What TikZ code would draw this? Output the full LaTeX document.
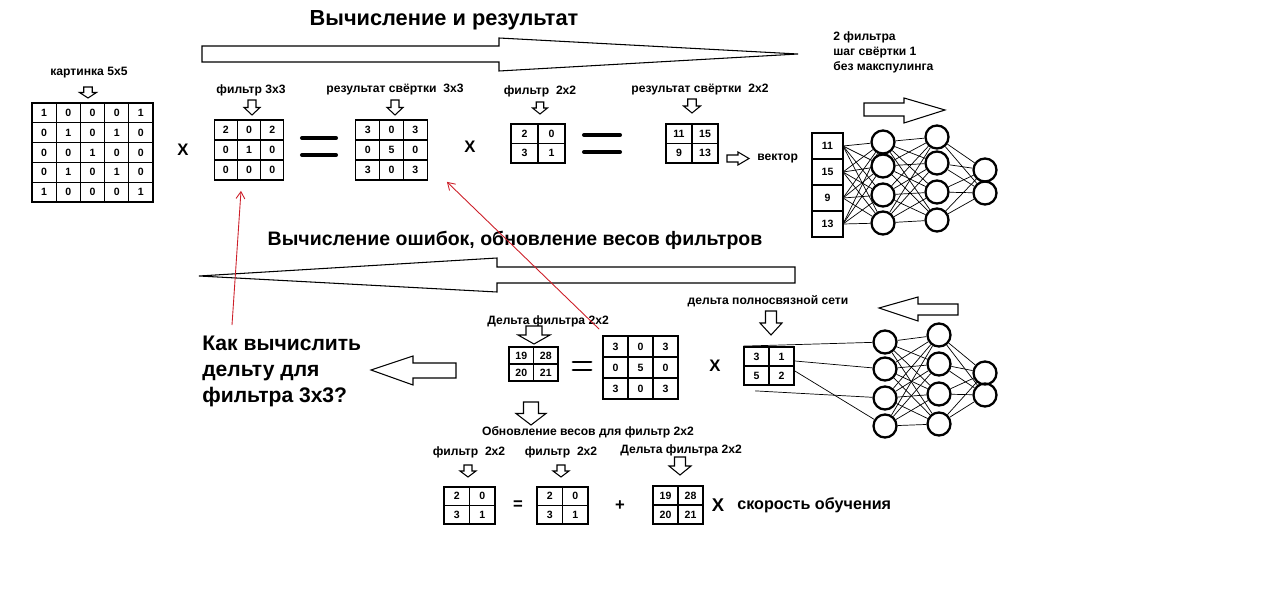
\documentclass[tikz,border=0pt]{standalone}
\usepackage{fontspec}
\setmainfont{Liberation Sans}
\usetikzlibrary{matrix,calc,arrows.meta}

\definecolor{penred}{RGB}{205,30,40}

\newcommand{\lbl}{\fontsize{6.9}{8}\selectfont\bfseries}
\newcommand{\notefont}{\fontsize{6.9}{8.5}\selectfont\bfseries}
\newcommand{\cellfont}{\fontsize{6}{7}\selectfont\bfseries}
\newcommand{\ttlfwd}{\fontsize{12.4}{14}\selectfont\bfseries}
\newcommand{\ttlbwd}{\fontsize{11.1}{14}\selectfont\bfseries}
\newcommand{\askfont}{\fontsize{12}{14.8}\selectfont\bfseries}
\newcommand{\opfont}{\fontsize{9.5}{11}\selectfont\bfseries}
\newcommand{\ratefont}{\fontsize{9.2}{10}\selectfont\bfseries}

% hollow down arrow: x, y of tail, width, length
\newcommand{\dnarrow}[4]{%
  \draw[hollow] ({#1-#3/4},#2) -- ({#1+#3/4},#2) -- ({#1+#3/4},{#2+#4/2})
    -- ({#1+#3/2},{#2+#4/2}) -- (#1,{#2+#4}) -- ({#1-#3/2},{#2+#4/2})
    -- ({#1-#3/4},{#2+#4/2}) -- cycle;}

\begin{document}
\begin{tikzpicture}[x=0.02cm, y=-0.02cm,
  numgrid/.style 2 args={matrix of nodes, inner sep=0pt, column sep=-0.6pt, row sep=-0.6pt,
    nodes={draw, line width=0.6pt, outer sep=0pt, inner sep=0pt, anchor=center, font=\cellfont,
      minimum width=#1*0.02cm, minimum height=#2*0.02cm}},
  txt/.style={inner sep=0pt, font=\lbl},
  op/.style={inner sep=0pt, font=\opfont},
  neuron/.style={circle, draw, line width=1.3pt, minimum size=0.46cm, inner sep=0pt},
  wire/.style={line width=0.4pt},
  hollow/.style={draw, line width=0.6pt, fill=white},
  eqbar/.style={line width=2.3pt, line cap=round},
  redarr/.style={penred, line width=0.5pt, -{Straight Barb[length=4pt,width=5pt]}}
]
\fill[white] (0,0) rectangle (1280,594);
\useasboundingbox (0,0) rectangle (1280,594);

% Forward pass
\node[font=\ttlfwd, inner sep=0pt] (ttlfwd) at (444,20) {Вычисление и результат};
\draw[hollow] (202,46) -- (499,46) -- (499,38) -- (798,54) -- (499,71) -- (499,62) -- (202,62) -- cycle;

\node[txt] (lblimg) at (89,73) {картинка 5х5};
\dnarrow{88}{87}{17}{11}
\matrix[numgrid={24.2}{19.8}] (img) at (92.5,152.5) {
  1 & 0 & 0 & 0 & 1 \\ 0 & 1 & 0 & 1 & 0 \\ 0 & 0 & 1 & 0 & 0 \\ 0 & 1 & 0 & 1 & 0 \\ 1 & 0 & 0 & 0 & 1 \\};
\node[op] (mul1) at (183,150) {X};

\node[txt] (lblf3) at (251,90) {фильтр 3х3};
\dnarrow{252}{100}{16}{15}
\matrix[numgrid={23.3}{20}] (flt3) at (249,150) {2 & 0 & 2 \\ 0 & 1 & 0 \\ 0 & 0 & 0 \\};
\draw[eqbar] (302,138) -- (336,138);
\draw[eqbar] (302,155) -- (336,155);

\node[txt] (lblc3) at (395,90) {результат свёртки\ \ 3х3};
\dnarrow{395}{100}{16}{15}
\matrix[numgrid={23.7}{20}] (cnv3) at (391.5,150) {3 & 0 & 3 \\ 0 & 5 & 0 \\ 3 & 0 & 3 \\};
\node[op] (mul2) at (470,147) {X};

\node[txt] (lblf2) at (540,91) {фильтр\ \ 2х2};
\dnarrow{540}{102}{15}{12}
\matrix[numgrid={27}{19.5}] (flt2) at (538,143.5) {2 & 0 \\ 3 & 1 \\};
\draw[eqbar] (584,135) -- (620,135);
\draw[eqbar] (584,152) -- (620,152);

\node[txt] (lblc2) at (700,90) {результат свёртки\ \ 2х2};
\dnarrow{692}{99}{17}{14}
\matrix[numgrid={26}{19.5}] (cnv2) at (692,143.5) {11 & 15 \\ 9 & 13 \\};
\draw[hollow] (727,155) -- (738,155) -- (738,152) -- (749,158.5) -- (738,165) -- (738,162) -- (727,162) -- cycle;
\node[txt, anchor=west] (lblvec) at (757,158) {вектор};

\node[font=\notefont, anchor=north west, align=left, inner sep=0pt] (note) at (833,31)
  {2 фильтра\\шаг свёртки 1\\без макспулинга};
\draw[hollow] (864,103) -- (904,103) -- (904,98) -- (945,110) -- (904,123) -- (904,116) -- (864,116) -- cycle;

% Fully connected net (forward)
\matrix[numgrid={31}{26}] (vec) at (827.5,185) {11 \\ 15 \\ 9 \\ 13 \\};
\foreach \i/\y in {1/142,2/166,3/195,4/223} \node[neuron] (ta\i) at (883,\y) {};
\foreach \i/\y in {1/137,2/163,3/192,4/220} \node[neuron] (tb\i) at (937,\y) {};
\foreach \i/\y in {1/170,2/193} \node[neuron] (tc\i) at (985,\y) {};
\foreach \i in {1,...,4} \foreach \j in {1,...,4} \draw[wire] (vec-\i-1.east) -- (ta\j);
\foreach \i in {1,...,4} \foreach \j in {1,...,4} \draw[wire] (ta\i) -- (tb\j);
\foreach \i in {1,...,4} \foreach \j in {1,2} \draw[wire] (tb\i) -- (tc\j);

% Backward pass
\node[font=\ttlbwd, inner sep=0pt] (ttlbwd) at (515,240) {Вычисление ошибок, обновление весов фильтров};
\draw[hollow] (795,267) -- (497,267) -- (497,258) -- (199,276) -- (497,292) -- (497,283) -- (795,283) -- cycle;

\node[font=\askfont, anchor=west, align=left, inner sep=0pt] (ask) at (202,371)
  {Как вычислить\\дельту для\\фильтра 3х3?};
\draw[hollow] (456,363) -- (413,363) -- (413,356) -- (371,370) -- (413,385) -- (413,378) -- (456,378) -- cycle;

\node[txt] (lbldf) at (548,321) {Дельта фильтра 2х2};
\dnarrow{534}{326}{32}{18}
\matrix[numgrid={24.5}{17}] (dflt) at (533.5,364) {19 & 28 \\ 20 & 21 \\};
\draw[eqbar, line width=1.7pt] (573,362) -- (591,362);
\draw[eqbar, line width=1.7pt] (573,370) -- (591,370);
\matrix[numgrid={25}{21}] (cnv3b) at (640.5,367.5) {3 & 0 & 3 \\ 0 & 5 & 0 \\ 3 & 0 & 3 \\};
\node[op] (mul3) at (715,366) {X};

\node[txt] (lbldfc) at (768,301) {дельта полносвязной сети};
\dnarrow{771}{311}{22}{24}
\matrix[numgrid={25}{19}] (dfc) at (769,366) {3 & 1 \\ 5 & 2 \\};
\draw[hollow] (958,304) -- (918,304) -- (918,297) -- (879,308) -- (918,321) -- (918,315) -- (958,315) -- cycle;

% Fully connected net (backward)
\foreach \i/\y in {1/342,2/369,3/398,4/426} \node[neuron] (ba\i) at (885,\y) {};
\foreach \i/\y in {1/335,2/364,3/394,4/424} \node[neuron] (bb\i) at (939,\y) {};
\foreach \i/\y in {1/373,2/395} \node[neuron] (bc\i) at (985,\y) {};
\foreach \i in {1,...,4} \foreach \j in {1,...,4} \draw[wire] (ba\i) -- (bb\j);
\foreach \i in {1,...,4} \foreach \j in {1,2} \draw[wire] (bb\i) -- (bc\j);
\draw[wire] (dfc.north west) -- (ba1);
\draw[wire] ($(dfc.east)+(0,-5)$) -- (ba2);
\draw[wire] ($(dfc.east)+(0,5)$) -- (ba4);
\draw[wire] ($(dfc.south west)+(12,5)$) -- (ba3);

% Weight update
\dnarrow{531}{402}{30}{23}
\node[txt] (lblupd) at (588,432) {Обновление весов для фильтр 2х2};
\node[txt] (lblnew) at (469,452) {фильтр\ \ 2х2};
\node[txt] (lblold) at (561,452) {фильтр\ \ 2х2};
\node[txt] (lbldu) at (681,450) {Дельта фильтра 2х2};
\dnarrow{468}{465}{16}{12}
\dnarrow{561}{465}{16}{12}
\dnarrow{680}{457}{22}{18}
\matrix[numgrid={25.5}{18.5}] (newf) at (469.5,505.5) {2 & 0 \\ 3 & 1 \\};
\node[op] (eqs) at (518,505) {=};
\matrix[numgrid={25.5}{18.5}] (oldf) at (562.5,505.5) {2 & 0 \\ 3 & 1 \\};
\node[op] (plus) at (620,506) {+};
\matrix[numgrid={25}{19}] (dupd) at (678,505) {19 & 28 \\ 20 & 21 \\};
\node[op, font=\fontsize{10.5}{12}\selectfont\bfseries] (mul4) at (718,505) {X};
\node[font=\ratefont, anchor=west, inner sep=0pt] (rate) at (737,505) {скорость обучения};

% Red hints
\coordinate (askfrom) at (232,325);
\draw[redarr] (askfrom) -- ($(flt3.south)+(-8,10)$);
\draw[redarr] ($(cnv3b.north west)+(-3,-6)$) -- ($(cnv3.south east)+(19,1)$);

\end{tikzpicture}
\end{document}
